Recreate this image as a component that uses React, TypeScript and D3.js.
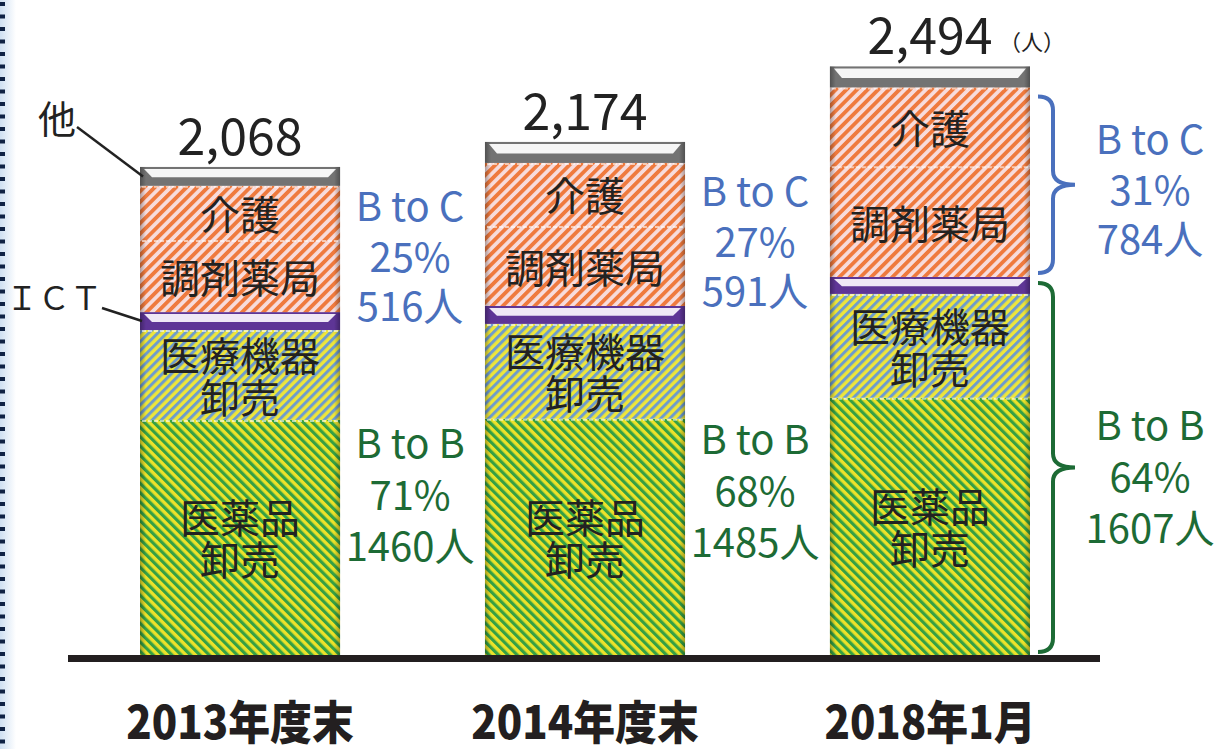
import React from 'react';
import * as d3 from 'd3';

// data
const categories = ['2013年度末', '2014年度末', '2018年1月'];
const totals = [2068, 2174, 2494];
const iyakuhin = [996, 1001, 1090];   // 医薬品卸売
const iryoKiki = [381, 402, 440];     // 医療機器卸売
const ict = [76, 76, 72];             // ICT
const chozai = [305, 339, 469];       // 調剤薬局
const kaigo = [230, 267, 334];        // 介護
const other = [80, 89, 89];           // 他
const btocPct = ['25%', '27%', '31%'];
const btocCount = ['516人', '591人', '784人'];
const btobPct = ['71%', '68%', '64%'];
const btobCount = ['1460人', '1485人', '1607人'];

const keys = ['iyakuhin', 'iryoKiki', 'ict', 'chozai', 'kaigo', 'other'];
const segLabels: Record<string, string[]> = {
  iyakuhin: ['医薬品', '卸売'],
  iryoKiki: ['医療機器', '卸売'],
  chozai: ['調剤薬局'],
  kaigo: ['介護'],
};

const W = 1220, H = 749;
const font = '"Noto Sans CJK JP", "Noto Sans", sans-serif';
const blue = '#4a70bd';
const green = '#1d6b35';

function brace(x0: number, y0: number, y1: number, xm: number, tip: number) {
  const ym = (y0 + y1) / 2;
  const r = 14;
  return `M${x0},${y0} Q${xm},${y0} ${xm},${y0 + r} L${xm},${ym - r} Q${xm},${ym} ${tip},${ym} ` +
    `Q${xm},${ym} ${xm},${ym + r} L${xm},${y1 - r} Q${xm},${y1} ${x0},${y1}`;
}

export default function App() {
  const table = categories.map((c, i) => ({
    cat: c, iyakuhin: iyakuhin[i], iryoKiki: iryoKiki[i], ict: ict[i],
    chozai: chozai[i], kaigo: kaigo[i], other: other[i],
  }));
  const stack = d3.stack<any>().keys(keys)(table);

  const x = d3.scaleBand().domain(categories).range([140, 1030]).paddingInner(0.42).paddingOuter(0);
  const baseY = 655;
  const y = d3.scaleLinear().domain([0, 2494]).range([baseY, baseY - 2494 * 0.236]);
  const bw = x.bandwidth();

  const fills: Record<string, string> = {
    iyakuhin: 'url(#pGreen)', iryoKiki: 'url(#pBlue)', chozai: 'url(#pOrange)', kaigo: 'url(#pOrange)',
  };

  return (
    <svg width={W} height={H} style={{ position: 'absolute', left: 0, top: 0, background: '#fff' }}>
      <defs>
        <pattern id="pOrange" width="7.5" height="7.5" patternUnits="userSpaceOnUse" patternTransform="rotate(45)">
          <rect width="7.5" height="7.5" fill="#f7dcdc" />
          <rect width="3.8" height="7.5" fill="#ef7a3e" />
        </pattern>
        <pattern id="pBlue" width="6.4" height="6.4" patternUnits="userSpaceOnUse" patternTransform="rotate(45)">
          <rect width="6.4" height="6.4" fill="#eee63a" />
          <rect width="3" height="6.4" fill="#6f9ccc" />
        </pattern>
        <pattern id="pGreen" width="6.6" height="6.6" patternUnits="userSpaceOnUse" patternTransform="rotate(-45)">
          <rect width="6.6" height="6.6" fill="#ece22a" />
          <rect width="3.2" height="6.6" fill="#35a045" />
        </pattern>
        <linearGradient id="edge" x1="0" x2="1" y1="0" y2="0">
          <stop offset="0" stopColor="#000" stopOpacity="0.3" />
          <stop offset="0.03" stopColor="#000" stopOpacity="0" />
          <stop offset="0.97" stopColor="#000" stopOpacity="0" />
          <stop offset="1" stopColor="#000" stopOpacity="0.3" />
        </linearGradient>
        <linearGradient id="glow" x1="0" x2="1" y1="0" y2="0">
          <stop offset="0" stopColor="#cfe0f2" />
          <stop offset="1" stopColor="#fff" />
        </linearGradient>
      </defs>

      {/* left dotted border */}
      <rect x={0} y={0} width={16} height={H} fill="url(#glow)" />
      <line x1={2.5} y1={2} x2={2.5} y2={H} stroke="#0f2244" strokeWidth={5} strokeDasharray="4 8.5" />

      {/* stacked bars */}
      {stack.map(layer => (
        <g key={layer.key}>
          {layer.map((d, i) => {
            const bx = x(categories[i]) as number;
            const y0 = y(d[1]);
            const h = y(d[0]) - y(d[1]);
            const k = layer.key;
            if (k === 'other' || k === 'ict') {
              const dark = k === 'other' ? '#737373' : '#5e3596';
              const light = k === 'other' ? '#f6f6f6' : '#efe8f6';
              return (
                <g key={i}>
                  <rect x={bx} y={y0} width={bw} height={h} fill={dark} />
                  <path d={`M${bx + 4},${y0 + 2} L${bx + bw - 4},${y0 + 2} L${bx + bw - 12},${y0 + h * 0.55} L${bx + 12},${y0 + h * 0.55} Z`}
                    fill={light} />
                  <rect x={bx} y={y0} width={bw} height={h} fill="url(#edge)" />
                </g>
              );
            }
            const lines = segLabels[k];
            const cy = y0 + h / 2;
            return (
              <g key={i}>
                <rect x={bx} y={y0} width={bw} height={h} fill={fills[k]} />
                <rect x={bx} y={y0} width={bw} height={h} fill="url(#edge)" />
                <line x1={bx + 2} x2={bx + bw - 2} y1={y0 + 1} y2={y0 + 1} stroke="#fff" strokeOpacity={0.6} strokeWidth={2} strokeDasharray="4 2" />
                {lines.map((t, j) => (
                  <text key={j} x={bx + bw / 2} y={cy + (j - (lines.length - 1) / 2) * 42}
                    textAnchor="middle" dominantBaseline="central" fontFamily={font} fontSize={40} fill="#222">{t}</text>
                ))}
              </g>
            );
          })}
        </g>
      ))}

      {/* totals */}
      {categories.map((c, i) => (
        <text key={c} x={(x(c) as number) + bw / 2} y={y(totals[i]) - 34} textAnchor="middle" dominantBaseline="central"
          fontFamily={font} fontSize={50} fill="#222">{d3.format(',')(totals[i])}</text>
      ))}
      <text x={1032} y={40} textAnchor="middle" dominantBaseline="central" fontFamily={font} fontSize={22} fill="#222">（人）</text>

      {/* B to C / B to B annotations */}
      {categories.map((c, i) => {
        const bx = x(c) as number;
        const ax = i === 2 ? bx + bw + 120 : bx + bw + 70;
        const cTop = y(totals[i] - other[i]);
        const bTop = y(iyakuhin[i] + iryoKiki[i] + ict[i]);
        const cMid = (cTop + bTop) / 2 + 6;
        const bMid = (bTop + baseY) / 2 + 9;
        const tx = (t: string, yy: number, col: string, k: string) => (
          <text key={k} x={ax} y={yy} textAnchor="middle" dominantBaseline="central" fontFamily={font} fontSize={40} fill={col}>{t}</text>
        );
        return (
          <g key={c}>
            {tx('B to C', cMid - 51, blue, 'a')}
            {tx(btocPct[i], cMid, blue, 'b')}
            {tx(btocCount[i], cMid + 49, blue, 'c')}
            {tx('B to B', bMid - 52, green, 'd')}
            {tx(btobPct[i], bMid, green, 'e')}
            {tx(btobCount[i], bMid + 51, green, 'f')}
          </g>
        );
      })}

      {/* braces for last bar */}
      {(() => {
        const i = 2;
        const bx = (x(categories[i]) as number) + bw;
        const cTop = y(totals[i] - other[i]);
        const bTop = y(iyakuhin[i] + iryoKiki[i] + ict[i]);
        return (
          <g fill="none" strokeWidth={4}>
            <path d={brace(bx + 8, cTop + 9, bTop - 4, bx + 23, bx + 45)} stroke={blue} />
            <path d={brace(bx + 8, bTop + 6, baseY - 3, bx + 23, bx + 45)} stroke={green} />
          </g>
        );
      })()}

      {/* leader labels */}
      {(() => {
        const bx = x(categories[0]) as number;
        const oy = y(totals[0] - other[0] / 2);
        const iy = y(iyakuhin[0] + iryoKiki[0] + ict[0] / 2);
        return (
          <g>
            <text x={57} y={116} textAnchor="middle" dominantBaseline="central" fontFamily={font} fontSize={38} fill="#222">他</text>
            <line x1={77} y1={127} x2={bx + 3} y2={oy} stroke="#222" strokeWidth={2.5} />
            <text x={54} y={296} textAnchor="middle" dominantBaseline="central" fontFamily={font} fontSize={32} fill="#222">ＩＣＴ</text>
            <line x1={102} y1={308} x2={bx + 2} y2={iy} stroke="#222" strokeWidth={2.5} />
          </g>
        );
      })()}

      {/* baseline */}
      <rect x={68} y={baseY} width={1032} height={7} fill="#231f20" />

      {/* category labels */}
      {categories.map(c => (
        <text key={c} transform={`translate(${(x(c) as number) + bw / 2},${739}) scale(0.91,1)`}
          textAnchor="middle" fontFamily={font} fontWeight={900} fontSize={46} fill="#231f20">{c}</text>
      ))}
    </svg>
  );
}
